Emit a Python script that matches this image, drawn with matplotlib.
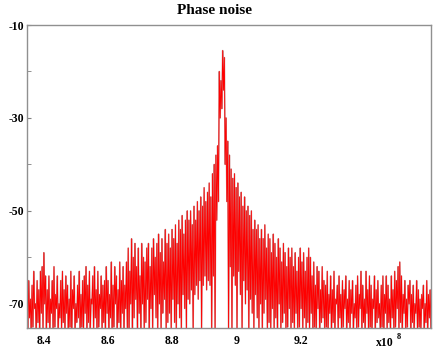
import numpy as np
import matplotlib
matplotlib.use("Agg")
import matplotlib.pyplot as plt
from matplotlib.ticker import FuncFormatter, MultipleLocator

# frequency span of the trace (Hz)
f_start = 8.347e8
f_stop = 9.606e8

# upper turning points of the noisy trace (dB), left to right
tops = [
    -68, -65, -69, -66, -63, -70, -65, -67, -63, -62, -59, -64,
    -67, -64, -69, -65, -62, -68, -64, -70, -65, -63, -67, -64,
    -66, -69, -63, -67, -64, -70, -66, -63, -68, -65, -64, -62,
    -66, -63, -69, -64, -62, -67, -63, -68, -64, -66, -65, -62,
    -65, -68, -61, -66, -62, -64, -67, -61, -65, -62, -66, -61,
    -58, -63, -56, -60, -57, -62, -58, -64, -57, -60, -61, -58,
    -57, -62, -58, -56, -60, -57, -55, -59, -56, -61, -54, -57,
    -55, -58, -54, -56, -53, -57, -52, -54, -51, -55, -52, -50,
    -52, -50, -53, -49, -52, -48, -50, -47, -49, -45, -48, -46,
    -44, -47, -42, -40, -38, -36, -20, -22, -15.5, -17, -30, -35,
    -38, -41, -43, -42, -45, -44, -47, -46, -49, -47, -50, -49,
    -51, -50, -54, -52, -54, -53, -56, -54, -56, -53, -58, -55,
    -56, -59, -55, -57, -60, -56, -58, -61, -57, -59, -62, -58,
    -60, -58, -62, -59, -63, -60, -58, -61, -59, -63, -60, -58,
    -60, -64, -61, -66, -62, -63, -67, -62, -65, -66, -63, -68,
    -64, -67, -63, -69, -66, -64, -68, -65, -67, -64, -69, -65,
    -67, -65, -70, -66, -64, -68, -63, -66, -69, -63, -67, -64,
    -66, -69, -64, -67, -65, -70, -66, -64, -68, -64, -66, -69,
    -64, -67, -63, -65, -62, -61, -64, -68, -65, -69, -66, -65,
    -68, -66, -70, -65, -67, -69, -68, -66, -70, -65, -68, -67,
]

# lower turning points of the noisy trace (dB)
bottoms = [
    -76, -73, -76, -75, -71, -76, -74, -76, -72, -76, -70, -76,
    -74, -76, -72, -76, -75, -71, -76, -73, -76, -74, -76, -72,
    -76, -75, -76, -71, -76, -74, -73, -76, -75, -76, -72, -76,
    -74, -76, -70, -76, -73, -76, -75, -71, -76, -74, -76, -72,
    -76, -73, -76, -75, -70, -76, -74, -76, -72, -76, -71, -76,
    -76, -70, -76, -73, -69, -76, -72, -76, -70, -76, -74, -69,
    -76, -71, -76, -68, -73, -76, -70, -76, -72, -69, -76, -74,
    -72, -76, -69, -74, -76, -70, -73, -76, -68, -71, -76, -69,
    -70, -67, -76, -68, -66, -69, -65, -76, -66, -64, -67, -65,
    -66, -76, -64, -76, -52, -48, -30, -28, -24, -40, -48, -76,
    -62, -76, -64, -66, -76, -63, -68, -76, -65, -70, -67, -76,
    -69, -72, -76, -68, -73, -76, -70, -76, -72, -69, -76, -74,
    -76, -71, -76, -73, -76, -70, -76, -74, -72, -76, -75, -71,
    -76, -74, -76, -72, -76, -75, -71, -76, -73, -76, -74, -76,
    -72, -76, -75, -76, -71, -76, -74, -73, -76, -75, -76, -72,
    -76, -74, -76, -70, -76, -73, -76, -75, -71, -76, -74, -76,
    -72, -76, -73, -76, -75, -71, -76, -74, -76, -72, -76, -75,
    -76, -71, -76, -74, -73, -76, -75, -76, -72, -76, -74, -76,
    -73, -76, -75, -71, -76, -74, -76, -72, -76, -75, -70, -76,
    -74, -76, -72, -76, -75, -76, -71, -76, -74, -76, -73, -76,
]

xticks = [8.4e8, 8.6e8, 8.8e8, 9.0e8, 9.2e8]
yticks = [-10, -30, -50, -70]

level = np.empty(2 * len(tops))
level[0::2] = tops
level[1::2] = bottoms
freq = np.linspace(f_start, f_stop, len(level))

plt.rcParams['font.family'] = ['Liberation Serif', 'DejaVu Serif']
plt.rcParams['font.weight'] = 'bold'
plt.rcParams['axes.unicode_minus'] = False

fig = plt.figure(figsize=(4.44, 3.49), dpi=100)
ax = fig.add_axes([27 / 444, 21 / 349, 404 / 444, 303 / 349])

# soft halo under the trace, then the red trace itself
ax.plot(freq, level, color='#c89090', linewidth=1.1)
ax.plot(freq, level, color='#ff0000', linewidth=0.6)

ax.set_xlim(f_start, f_stop)
ax.set_ylim(-75.2, -10)
ax.set_xticks(xticks)
ax.xaxis.set_major_formatter(FuncFormatter(lambda v, p: '%g' % round(v / 1e8, 2)))
ax.set_yticks(yticks)
ax.yaxis.set_minor_locator(MultipleLocator(10))
ax.tick_params(axis='both', which='both', direction='in', labelsize=8.5,
               color='#808080')
ax.tick_params(axis='y', which='major', length=3, pad=2)
ax.tick_params(axis='y', which='minor', length=3)
ax.tick_params(axis='x', length=0, pad=5)
for s in ax.spines.values():
    s.set_color('#909090')
    s.set_linewidth(1.0)

fig.text(214 / 444, 338 / 349, 'Phase noise', fontsize=11, fontweight='bold',
         ha='center', va='center')
fig.text(376 / 444, 3 / 349, 'x10', fontsize=8.5, fontweight='bold')
fig.text(397 / 444, 10 / 349, '8', fontsize=6, fontweight='bold')

fig.savefig('out.png', dpi=100)
